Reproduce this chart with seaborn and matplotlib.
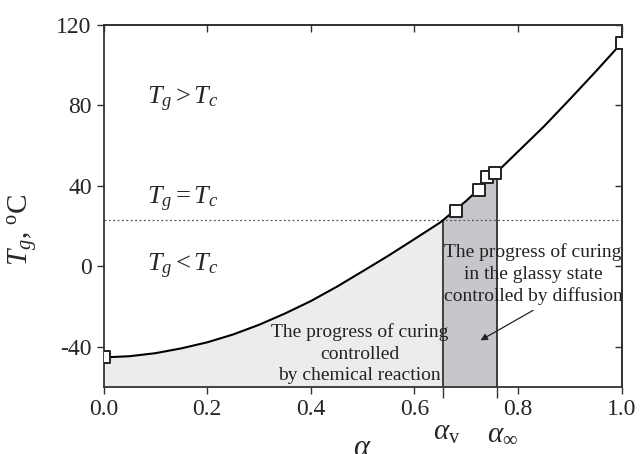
import numpy as np
import pandas as pd
import matplotlib
matplotlib.use("Agg")
import matplotlib.pyplot as plt
import seaborn as sns

# curve
alpha = [0.00, 0.05, 0.10, 0.15, 0.20, 0.25, 0.30, 0.35, 0.40, 0.45, 0.50,
         0.55, 0.60, 0.65, 0.70, 0.75, 0.80, 0.85, 0.90, 0.95, 1.00]
tg = [-45.3, -44.7, -43.2, -40.8, -37.8, -33.9, -29.1, -23.5, -17.3, -10.2, -2.5,
      5.3, 13.5, 21.8, 32.5, 44.5, 57.0, 69.5, 83.0, 96.8, 111.0]

# measured points (squares)
pt_alpha = [0.0, 0.681, 0.724, 0.740, 0.756, 1.0]
pt_tg = [-45.3, 27.5, 37.8, 44.4, 46.5, 111.0]

tc = 23.0
alpha_v = 0.656
alpha_inf = 0.759
y_min, y_max = -60, 120

sns.set_style("ticks")
plt.rcParams['font.family'] = ['Liberation Serif', 'DejaVu Serif']
plt.rcParams['mathtext.fontset'] = 'custom'
plt.rcParams['mathtext.rm'] = 'Liberation Serif'
plt.rcParams['mathtext.it'] = 'Liberation Serif:italic'

fig = plt.figure(figsize=(6.43, 4.54), dpi=100)
ax = fig.add_axes([0.161, 0.1476, 0.8056, 0.7974])

curve = pd.DataFrame({'alpha': alpha, 'tg': tg})
pts = pd.DataFrame({'alpha': pt_alpha, 'tg': pt_tg})

a = np.array(alpha)
t = np.array(tg)
tg_v = np.interp(alpha_v, a, t)
tg_inf = np.interp(alpha_inf, a, t)
# light region 0..alpha_v
m1 = a < alpha_v
ax.fill_between(np.r_[a[m1], alpha_v], y_min, np.r_[t[m1], tg_v], color='#ececec', lw=0)
# dark region alpha_v..alpha_inf
m2 = (a > alpha_v) & (a < alpha_inf)
ax.fill_between(np.r_[alpha_v, a[m2], alpha_inf], y_min, np.r_[tg_v, t[m2], tg_inf],
                color='#c7c7cb', lw=0)

ax.axhline(tc, color='#555555', ls=(0, (1.5, 2)), lw=0.9)
ax.vlines([alpha_v, alpha_inf], y_min, [tg_v, tg_inf], color='#222222', lw=1.2)

sns.lineplot(data=curve, x='alpha', y='tg', ax=ax, color='black', lw=1.5)
sns.scatterplot(data=pts, x='alpha', y='tg', ax=ax, marker='s', s=75,
                facecolor='white', edgecolor='#222222', linewidth=1.4, zorder=5)

ax.set_xlim(0, 1.0)
ax.set_ylim(y_min, y_max)
ax.set_xticks([0.0, 0.2, 0.4, 0.6, 0.8, 1.0])
ax.set_xticklabels(['0.0', '0.2', '0.4', '0.6', '0.8', '1.0'])
ax.set_xticks([alpha_v, alpha_inf], minor=True)
ax.set_yticks([-40, 0, 40, 80, 120])
ax.set_yticklabels(['-40', '0', '40', '80', '120'])
ax.tick_params(axis='both', labelsize=17, direction='out', length=5, width=1, color='#333333')
ax.tick_params(axis='x', which='minor', direction='out', length=8, width=1, color='#333333')
for s in ax.spines.values():
    s.set_linewidth(1.3)
    s.set_color('#333333')

# inward ticks on the right and top
ry = ax.secondary_yaxis('right')
ry.set_yticks([-40, 0, 40, 80, 120])
ry.tick_params(direction='in', length=5, width=1, color='#333333', labelright=False)
tx = ax.secondary_xaxis('top')
tx.set_xticks([0.0, 0.2, 0.4, 0.6, 0.8, 1.0])
tx.tick_params(direction='in', length=5, width=1, color='#333333', labeltop=False)
for sec in (ry, tx):
    for s in sec.spines.values():
        s.set_linewidth(1.3)
        s.set_color('#333333')

ax.set_xlabel(r'$\alpha$', fontsize=22, labelpad=10)
ax.set_ylabel(r'$T_g$, $^{\rm o}$C', fontsize=21)
ax.yaxis.set_label_coords(-0.123, 0.434)

ax.text(0.084, 83, r'$T_g > T_c$', fontsize=19, va='center', ha='left')
ax.text(0.084, 33, r'$T_g = T_c$', fontsize=19, va='center', ha='left')
ax.text(0.084, 0, r'$T_g < T_c$', fontsize=19, va='center', ha='left')

ax.text(0.494, -43.5, 'The progress of curing\ncontrolled\nby chemical reaction',
        fontsize=14, ha='center', va='center', linespacing=1.35, color='#222222')
ax.text(0.829, -4.0, 'The progress of curing\nin the glassy state\ncontrolled by diffusion',
        fontsize=14, ha='center', va='center', linespacing=1.35, color='#222222')
ax.annotate('', xy=(0.723, -37.5), xytext=(0.834, -21.2),
            arrowprops=dict(arrowstyle='-|>', color='#222222', lw=0.9, mutation_scale=10))

ax.text(alpha_v + 0.006, -0.092, r'$\alpha_{\rm v}$', transform=ax.get_xaxis_transform(),
        fontsize=21, ha='center', va='top')
ax.text(alpha_inf + 0.012, -0.092, r'$\alpha_\infty$', transform=ax.get_xaxis_transform(),
        fontsize=21, ha='center', va='top')

fig.savefig('out.png', dpi=100)
